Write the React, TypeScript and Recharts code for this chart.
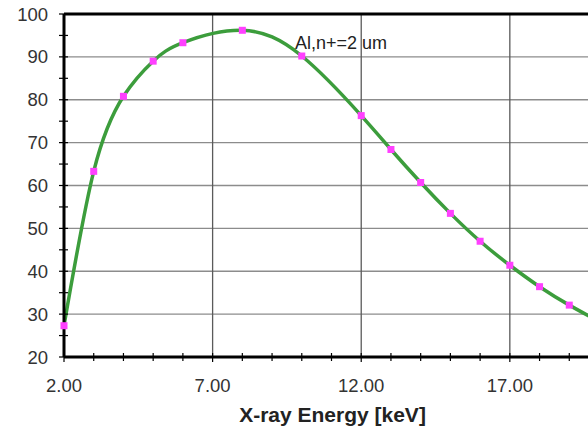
import React from 'react';
import { LineChart, Line, XAxis, YAxis, ReferenceLine, ReferenceDot } from 'recharts';

const energies = [2, 3, 4, 5, 6, 8, 10, 12, 13, 14, 15, 16, 17, 18, 19, 20];
const efficiency = [27.3, 63.3, 80.8, 89.0, 93.3, 96.2, 90.2, 76.3, 68.4, 60.7, 53.5, 47.0, 41.4, 36.4, 32.1, 28.3];
const xTicks = [2, 3, 4, 5, 6, 7, 8, 9, 10, 11, 12, 13, 14, 15, 16, 17, 18, 19, 20];
const xLabelled = [2, 7, 12, 17];
const yTicks = [20, 25, 30, 35, 40, 45, 50, 55, 60, 65, 70, 75, 80, 85, 90, 95, 100];
const yLabelled = [20, 30, 40, 50, 60, 70, 80, 90, 100];
const hGrid = [30, 40, 50, 60, 70, 80, 90];
const vGrid = [7, 12, 17];
const seriesName = 'Al,n+=2 um';
const xTitle = 'X-ray Energy [keV]';

const data = energies.map((x, i) => ({ x, y: efficiency[i] }));

const FONT = '"Liberation Sans", Arial, Helvetica, sans-serif';

const XTick = (props: any) => {
  const { x, y, payload } = props;
  const v = payload.value;
  const lab = xLabelled.includes(v);
  return (
    <g>
      <line x1={x} x2={x} y1={y - 4} y2={y + (lab ? 5 : 4)} stroke="#000" strokeWidth={1.2} />
      {lab && (
        <text x={x} y={y + 28} textAnchor="middle" dominantBaseline="central" fontSize={18.5} fill="#333" fontFamily={FONT}>
          {v.toFixed(2)}
        </text>
      )}
    </g>
  );
};

const YTick = (props: any) => {
  const { x, y, payload } = props;
  const v = payload.value;
  const lab = yLabelled.includes(v);
  return (
    <g>
      <line x1={x - 5} x2={x + 4} y1={y} y2={y} stroke="#000" strokeWidth={1.2} />
      {lab && (
        <text x={x - 16} y={y} textAnchor="end" dominantBaseline="central" fontSize={18.5} fill="#333" fontFamily={FONT}>
          {v}
        </text>
      )}
    </g>
  );
};

const XTitle = (props: any) => {
  const vb = props.viewBox || {};
  return (
    <text x={vb.x + vb.width / 2 + 1} y={vb.y + 57} textAnchor="middle" dominantBaseline="central" fontSize={21} fontWeight="bold" fill="#222" fontFamily={FONT}>
      {xTitle}
    </text>
  );
};

const Annot = (props: any) => {
  const vb = props.viewBox || {};
  return (
    <text x={vb.x} y={vb.y} textAnchor="start" dominantBaseline="central" fontSize={18} fill="#222" fontFamily={FONT}>
      {seriesName}
    </text>
  );
};

const SquareDot = (props: any) => {
  const { cx, cy, index } = props;
  return <rect key={`d${index}`} x={cx - 3.5} y={cy - 3.5} width={7} height={7} fill="#ff40ff" />;
};

export default function App() {
  return (
    <div style={{ width: 588, height: 427, overflow: 'hidden', background: '#fff', position: 'relative' }}>
      <style>{'body{margin:0;overflow:hidden;background:#fff}'}</style>
      <LineChart width={599} height={427} data={data} margin={{ top: 14, right: 0, bottom: 0, left: 0 }}>
        <XAxis
          dataKey="x"
          type="number"
          domain={[2, 20]}
          ticks={xTicks}
          interval={0}
          tickSize={0}
          tickMargin={0}
          tickLine={false}
          tick={<XTick />}
          height={70}
          axisLine={{ stroke: '#000', strokeWidth: 3 }}
          label={<XTitle />}
        />
        <YAxis
          type="number"
          domain={[20, 100]}
          ticks={yTicks}
          interval={0}
          tickSize={0}
          tickMargin={0}
          tickLine={false}
          tick={<YTick />}
          width={64}
          axisLine={{ stroke: '#000', strokeWidth: 3 }}
        />
        {hGrid.map((v) => (
          <ReferenceLine key={`h${v}`} y={v} stroke="#8c8c8c" strokeWidth={1.3} />
        ))}
        {vGrid.map((v) => (
          <ReferenceLine key={`v${v}`} x={v} stroke="#5a5a5a" strokeWidth={1.3} />
        ))}
        <ReferenceLine y={100} stroke="#000" strokeWidth={3} />
        <ReferenceDot x={9.77} y={93.3} r={0} fill="none" stroke="none" label={<Annot />} />
        <Line
          dataKey="y"
          type="natural"
          stroke="#3c9d3c"
          strokeWidth={3.5}
          dot={<SquareDot />}
          activeDot={false}
          isAnimationActive={false}
        />
      </LineChart>
    </div>
  );
}
